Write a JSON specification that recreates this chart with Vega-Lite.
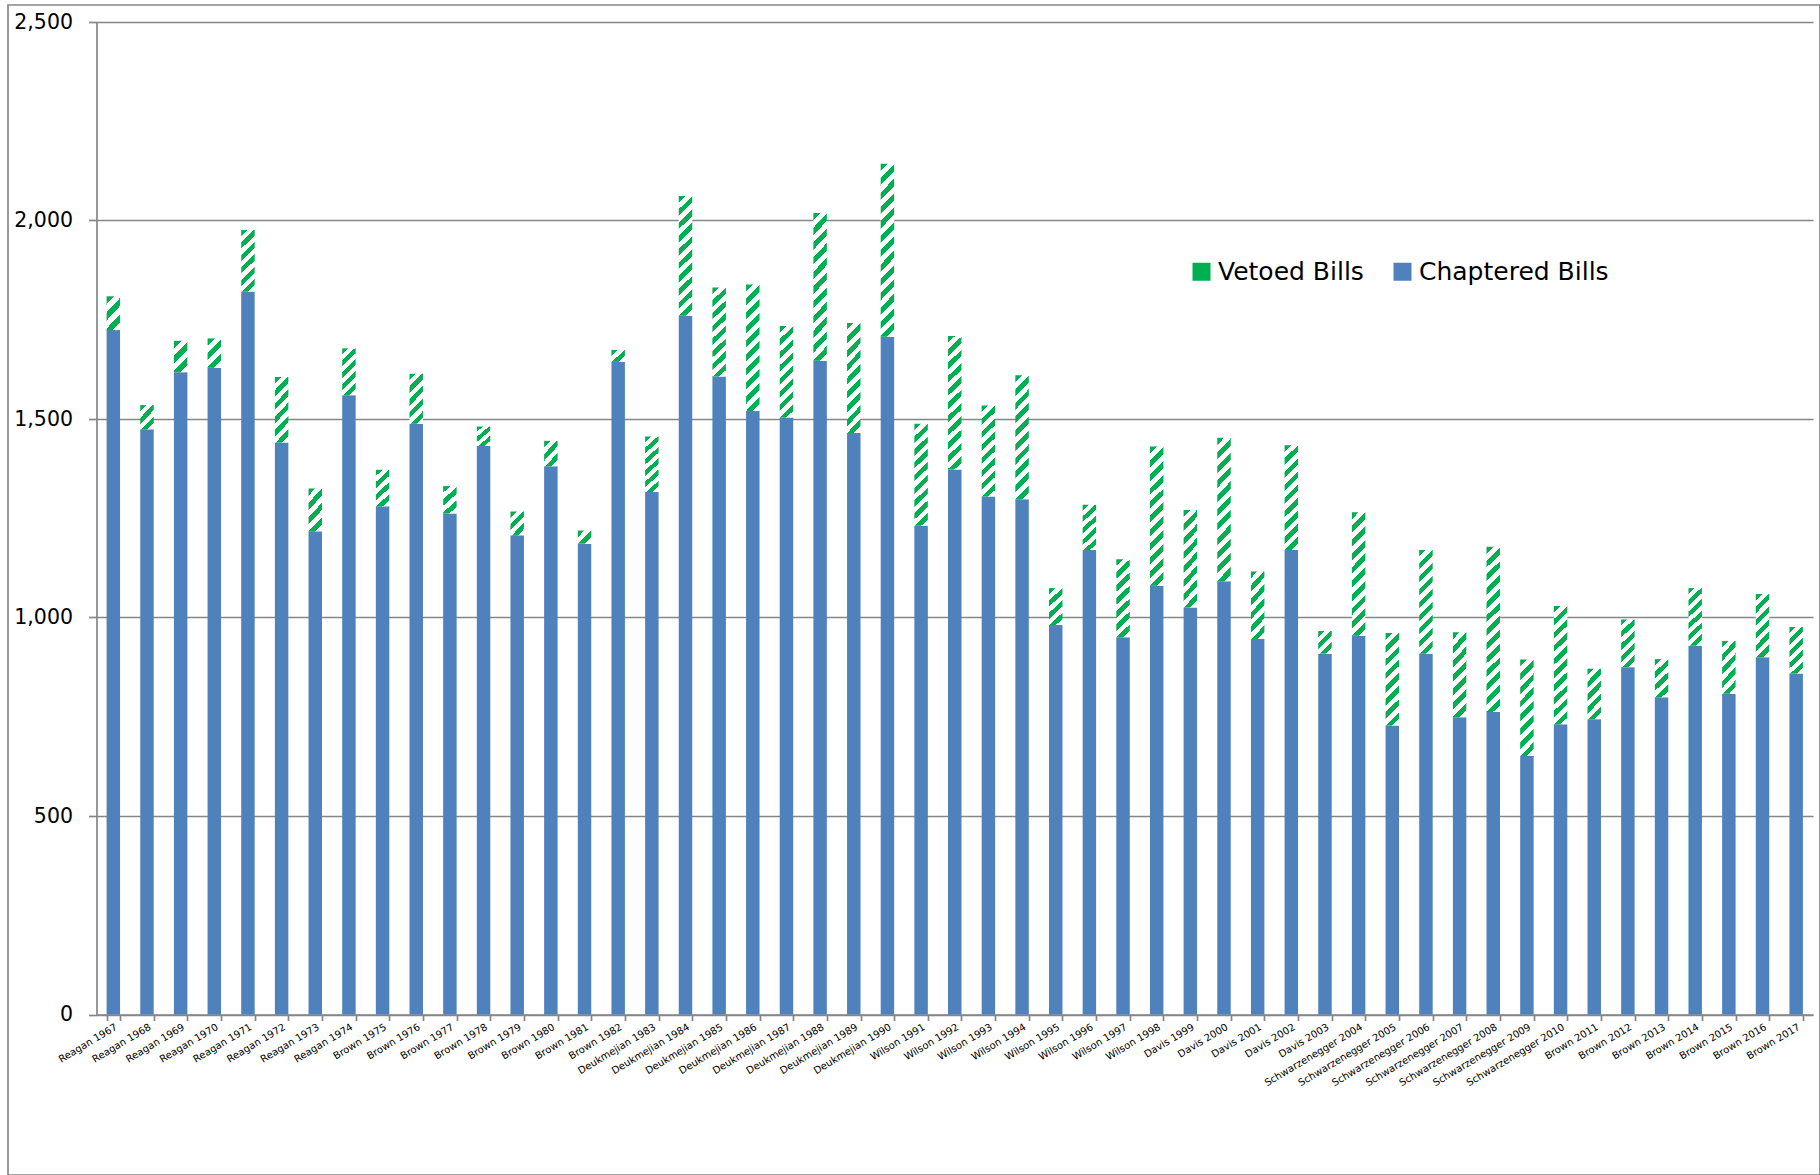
{
  "$schema": "https://vega.github.io/schema/vega-lite/v6.json",
  "width": 1812,
  "height": 1170,
  "autosize": "none",
  "padding": {"left": 8, "top": 5, "right": 0, "bottom": 0},
  "background": "white",
  "config": {
    "font": "DejaVu Sans",
    "view": {"stroke": "#878787", "strokeWidth": 1.7}
  },
  "data": {"values": [
    {"label": "Reagan 1967", "chaptered": 1724, "vetoed": 85},
    {"label": "Reagan 1968", "chaptered": 1474, "vetoed": 61},
    {"label": "Reagan 1969", "chaptered": 1618, "vetoed": 79},
    {"label": "Reagan 1970", "chaptered": 1629, "vetoed": 74},
    {"label": "Reagan 1971", "chaptered": 1821, "vetoed": 155},
    {"label": "Reagan 1972", "chaptered": 1441, "vetoed": 165},
    {"label": "Reagan 1973", "chaptered": 1217, "vetoed": 108},
    {"label": "Reagan 1974", "chaptered": 1560, "vetoed": 118},
    {"label": "Brown 1975", "chaptered": 1280, "vetoed": 92},
    {"label": "Brown 1976", "chaptered": 1488, "vetoed": 126},
    {"label": "Brown 1977", "chaptered": 1262, "vetoed": 69},
    {"label": "Brown 1978", "chaptered": 1432, "vetoed": 49},
    {"label": "Brown 1979", "chaptered": 1207, "vetoed": 60},
    {"label": "Brown 1980", "chaptered": 1381, "vetoed": 64},
    {"label": "Brown 1981", "chaptered": 1186, "vetoed": 33},
    {"label": "Brown 1982", "chaptered": 1644, "vetoed": 30},
    {"label": "Deukmejian 1983", "chaptered": 1316, "vetoed": 140},
    {"label": "Deukmejian 1984", "chaptered": 1760, "vetoed": 302},
    {"label": "Deukmejian 1985", "chaptered": 1607, "vetoed": 224},
    {"label": "Deukmejian 1986", "chaptered": 1520, "vetoed": 319},
    {"label": "Deukmejian 1987", "chaptered": 1504, "vetoed": 230},
    {"label": "Deukmejian 1988", "chaptered": 1647, "vetoed": 372},
    {"label": "Deukmejian 1989", "chaptered": 1465, "vetoed": 277},
    {"label": "Deukmejian 1990", "chaptered": 1707, "vetoed": 436},
    {"label": "Wilson 1991", "chaptered": 1231, "vetoed": 257},
    {"label": "Wilson 1992", "chaptered": 1373, "vetoed": 336},
    {"label": "Wilson 1993", "chaptered": 1305, "vetoed": 229},
    {"label": "Wilson 1994", "chaptered": 1298, "vetoed": 312},
    {"label": "Wilson 1995", "chaptered": 981, "vetoed": 93},
    {"label": "Wilson 1996", "chaptered": 1170, "vetoed": 114},
    {"label": "Wilson 1997", "chaptered": 950, "vetoed": 197},
    {"label": "Wilson 1998", "chaptered": 1080, "vetoed": 351},
    {"label": "Davis 1999", "chaptered": 1025, "vetoed": 246},
    {"label": "Davis 2000", "chaptered": 1091, "vetoed": 362},
    {"label": "Davis 2001", "chaptered": 946, "vetoed": 170},
    {"label": "Davis 2002", "chaptered": 1170, "vetoed": 264},
    {"label": "Davis 2003", "chaptered": 909, "vetoed": 57},
    {"label": "Schwarzenegger 2004", "chaptered": 954, "vetoed": 311},
    {"label": "Schwarzenegger 2005", "chaptered": 728, "vetoed": 233},
    {"label": "Schwarzenegger 2006", "chaptered": 909, "vetoed": 261},
    {"label": "Schwarzenegger 2007", "chaptered": 749, "vetoed": 214},
    {"label": "Schwarzenegger 2008", "chaptered": 762, "vetoed": 416},
    {"label": "Schwarzenegger 2009", "chaptered": 651, "vetoed": 243},
    {"label": "Schwarzenegger 2010", "chaptered": 731, "vetoed": 298},
    {"label": "Brown 2011", "chaptered": 744, "vetoed": 127},
    {"label": "Brown 2012", "chaptered": 875, "vetoed": 120},
    {"label": "Brown 2013", "chaptered": 799, "vetoed": 96},
    {"label": "Brown 2014", "chaptered": 929, "vetoed": 145},
    {"label": "Brown 2015", "chaptered": 808, "vetoed": 133},
    {"label": "Brown 2016", "chaptered": 900, "vetoed": 159},
    {"label": "Brown 2017", "chaptered": 859, "vetoed": 117}
  ]},
  "transform": [
    {"fold": ["chaptered", "vetoed"], "as": ["series", "count"]},
    {"stack": "count", "groupby": ["label"], "sort": [{"field": "series", "order": "ascending"}], "as": ["lo", "hi"]}
  ],
  "encoding": {
    "x": {
      "field": "label", "type": "nominal",
      "scale": {
        "domain": ["Reagan 1967","Reagan 1968","Reagan 1969","Reagan 1970","Reagan 1971","Reagan 1972","Reagan 1973","Reagan 1974","Brown 1975","Brown 1976","Brown 1977","Brown 1978","Brown 1979","Brown 1980","Brown 1981","Brown 1982","Deukmejian 1983","Deukmejian 1984","Deukmejian 1985","Deukmejian 1986","Deukmejian 1987","Deukmejian 1988","Deukmejian 1989","Deukmejian 1990","Wilson 1991","Wilson 1992","Wilson 1993","Wilson 1994","Wilson 1995","Wilson 1996","Wilson 1997","Wilson 1998","Davis 1999","Davis 2000","Davis 2001","Davis 2002","Davis 2003","Schwarzenegger 2004","Schwarzenegger 2005","Schwarzenegger 2006","Schwarzenegger 2007","Schwarzenegger 2008","Schwarzenegger 2009","Schwarzenegger 2010","Brown 2011","Brown 2012","Brown 2013","Brown 2014","Brown 2015","Brown 2016","Brown 2017"],
        "range": [88.5, 1805],
        "paddingInner": 0.6,
        "paddingOuter": 0.3
      },
      "axis": {
        "title": null, "offset": -160.5, "labelAngle": -31,
        "labelFont": "DejaVu Sans", "labelFontSize": 10, "labelColor": "#000000",
        "labelPadding": 1, "tickBand": "extent", "tickSize": 6,
        "tickColor": "#868686", "tickWidth": 1.7,
        "domainColor": "#868686", "domainWidth": 1.7,
        "grid": false, "labelOverlap": false, "labelLimit": 300
      }
    },
    "y": {
      "field": "hi", "type": "quantitative",
      "scale": {"domain": [0, 2500], "range": [1009.5, 17], "nice": false, "zero": true},
      "axis": {
        "title": null, "values": [0, 500, 1000, 1500, 2000, 2500], "format": ",d",
        "offset": -88.5, "grid": true, "gridColor": "#868686", "gridWidth": 1.7,
        "domainColor": "#868686", "domainWidth": 1.7,
        "tickColor": "#868686", "tickWidth": 1.7, "tickSize": 8,
        "labelFont": "DejaVu Sans", "labelFontSize": 20.5, "labelColor": "#000000",
        "labelPadding": 16, "labelFlush": false
      }
    },
    "y2": {"field": "lo"}
  },
  "layer": [
    {
      "transform": [{"filter": "datum.series === 'chaptered'"}],
      "mark": {"type": "bar"},
      "encoding": {
        "color": {
          "datum": "Chaptered Bills", "type": "nominal",
          "scale": {"domain": ["Vetoed Bills", "Chaptered Bills"], "range": ["#00B050", "#4F81BD"]},
          "legend": {
            "orient": "none", "legendX": 1181, "legendY": 254, "direction": "horizontal",
            "title": null, "symbolType": "square", "symbolSize": 324,
            "labelFont": "DejaVu Sans", "labelFontSize": 25, "labelColor": "#000000",
            "labelOffset": 4, "columnPadding": 26, "padding": 0, "labelLimit": 400,
            "symbolStrokeWidth": 0, "symbolOpacity": 1
          }
        }
      }
    },
    {
      "transform": [{"filter": "datum.series === 'vetoed' && datum.count < 40"}],
      "mark": {"type": "bar", "fill": {"gradient": "linear", "x1": 0, "y1": 0, "x2": 1.035, "y2": 0.962, "stops": [
        {"offset": 0, "color": "#00B050"}, {"offset": 0.25, "color": "#00B050"}, {"offset": 0.25, "color": "#ffffff"}, {"offset": 0.5, "color": "#ffffff"},
        {"offset": 0.5, "color": "#00B050"}, {"offset": 0.75, "color": "#00B050"}, {"offset": 0.75, "color": "#ffffff"}, {"offset": 1, "color": "#ffffff"}]}}
    },
    {
      "transform": [{"filter": "datum.series === 'vetoed' && datum.count >= 40 && datum.count < 65"}],
      "mark": {"type": "bar", "fill": {"gradient": "linear", "x1": 0, "y1": 0, "x2": 0.691, "y2": 1.181, "stops": [
        {"offset": 0, "color": "#00B050"}, {"offset": 0.1667, "color": "#00B050"}, {"offset": 0.1667, "color": "#ffffff"}, {"offset": 0.3333, "color": "#ffffff"},
        {"offset": 0.3333, "color": "#00B050"}, {"offset": 0.5, "color": "#00B050"}, {"offset": 0.5, "color": "#ffffff"}, {"offset": 0.6667, "color": "#ffffff"},
        {"offset": 0.6667, "color": "#00B050"}, {"offset": 0.8333, "color": "#00B050"}, {"offset": 0.8333, "color": "#ffffff"}, {"offset": 1, "color": "#ffffff"}]}}
    },
    {
      "transform": [{"filter": "datum.series === 'vetoed' && datum.count >= 65 && datum.count < 90"}],
      "mark": {"type": "bar", "fill": {"gradient": "linear", "x1": 0, "y1": 0, "x2": 0.524, "y2": 1.207, "stops": [
        {"offset": 0, "color": "#00B050"}, {"offset": 0.1667, "color": "#00B050"}, {"offset": 0.1667, "color": "#ffffff"}, {"offset": 0.3333, "color": "#ffffff"},
        {"offset": 0.3333, "color": "#00B050"}, {"offset": 0.5, "color": "#00B050"}, {"offset": 0.5, "color": "#ffffff"}, {"offset": 0.6667, "color": "#ffffff"},
        {"offset": 0.6667, "color": "#00B050"}, {"offset": 0.8333, "color": "#00B050"}, {"offset": 0.8333, "color": "#ffffff"}, {"offset": 1, "color": "#ffffff"}]}}
    },
    {
      "transform": [{"filter": "datum.series === 'vetoed' && datum.count >= 90 && datum.count < 112"}],
      "mark": {"type": "bar", "fill": {"gradient": "linear", "x1": 0, "y1": 0, "x2": 0.404, "y2": 1.201, "stops": [
        {"offset": 0, "color": "#00B050"}, {"offset": 0.125, "color": "#00B050"}, {"offset": 0.125, "color": "#ffffff"}, {"offset": 0.25, "color": "#ffffff"},
        {"offset": 0.25, "color": "#00B050"}, {"offset": 0.375, "color": "#00B050"}, {"offset": 0.375, "color": "#ffffff"}, {"offset": 0.5, "color": "#ffffff"},
        {"offset": 0.5, "color": "#00B050"}, {"offset": 0.625, "color": "#00B050"}, {"offset": 0.625, "color": "#ffffff"}, {"offset": 0.75, "color": "#ffffff"},
        {"offset": 0.75, "color": "#00B050"}, {"offset": 0.875, "color": "#00B050"}, {"offset": 0.875, "color": "#ffffff"}, {"offset": 1, "color": "#ffffff"}]}}
    },
    {
      "transform": [{"filter": "datum.series === 'vetoed' && datum.count >= 112 && datum.count < 135"}],
      "mark": {"type": "bar", "fill": {"gradient": "linear", "x1": 0, "y1": 0, "x2": 0.3256, "y2": 1.185, "stops": [
        {"offset": 0, "color": "#00B050"}, {"offset": 0.1, "color": "#00B050"}, {"offset": 0.1, "color": "#ffffff"}, {"offset": 0.2, "color": "#ffffff"},
        {"offset": 0.2, "color": "#00B050"}, {"offset": 0.3, "color": "#00B050"}, {"offset": 0.3, "color": "#ffffff"}, {"offset": 0.4, "color": "#ffffff"},
        {"offset": 0.4, "color": "#00B050"}, {"offset": 0.5, "color": "#00B050"}, {"offset": 0.5, "color": "#ffffff"}, {"offset": 0.6, "color": "#ffffff"},
        {"offset": 0.6, "color": "#00B050"}, {"offset": 0.7, "color": "#00B050"}, {"offset": 0.7, "color": "#ffffff"}, {"offset": 0.8, "color": "#ffffff"},
        {"offset": 0.8, "color": "#00B050"}, {"offset": 0.9, "color": "#00B050"}, {"offset": 0.9, "color": "#ffffff"}, {"offset": 1, "color": "#ffffff"}]}}
    },
    {
      "transform": [{"filter": "datum.series === 'vetoed' && datum.count >= 135 && datum.count < 175"}],
      "mark": {"type": "bar", "fill": {"gradient": "linear", "x1": 0, "y1": 0, "x2": 0.2523, "y2": 1.162, "stops": [
        {"offset": 0, "color": "#00B050"}, {"offset": 0.0833, "color": "#00B050"}, {"offset": 0.0833, "color": "#ffffff"}, {"offset": 0.1667, "color": "#ffffff"},
        {"offset": 0.1667, "color": "#00B050"}, {"offset": 0.25, "color": "#00B050"}, {"offset": 0.25, "color": "#ffffff"}, {"offset": 0.3333, "color": "#ffffff"},
        {"offset": 0.3333, "color": "#00B050"}, {"offset": 0.4167, "color": "#00B050"}, {"offset": 0.4167, "color": "#ffffff"}, {"offset": 0.5, "color": "#ffffff"},
        {"offset": 0.5, "color": "#00B050"}, {"offset": 0.5833, "color": "#00B050"}, {"offset": 0.5833, "color": "#ffffff"}, {"offset": 0.6667, "color": "#ffffff"},
        {"offset": 0.6667, "color": "#00B050"}, {"offset": 0.75, "color": "#00B050"}, {"offset": 0.75, "color": "#ffffff"}, {"offset": 0.8333, "color": "#ffffff"},
        {"offset": 0.8333, "color": "#00B050"}, {"offset": 0.9167, "color": "#00B050"}, {"offset": 0.9167, "color": "#ffffff"}, {"offset": 1, "color": "#ffffff"}]}}
    },
    {
      "transform": [{"filter": "datum.series === 'vetoed' && datum.count >= 175 && datum.count < 220"}],
      "mark": {"type": "bar", "fill": {"gradient": "linear", "x1": 0, "y1": 0, "x2": 0.1861, "y2": 1.134, "stops": [
        {"offset": 0, "color": "#00B050"}, {"offset": 0.0714, "color": "#00B050"}, {"offset": 0.0714, "color": "#ffffff"}, {"offset": 0.1429, "color": "#ffffff"},
        {"offset": 0.1429, "color": "#00B050"}, {"offset": 0.2143, "color": "#00B050"}, {"offset": 0.2143, "color": "#ffffff"}, {"offset": 0.2857, "color": "#ffffff"},
        {"offset": 0.2857, "color": "#00B050"}, {"offset": 0.3571, "color": "#00B050"}, {"offset": 0.3571, "color": "#ffffff"}, {"offset": 0.4286, "color": "#ffffff"},
        {"offset": 0.4286, "color": "#00B050"}, {"offset": 0.5, "color": "#00B050"}, {"offset": 0.5, "color": "#ffffff"}, {"offset": 0.5714, "color": "#ffffff"},
        {"offset": 0.5714, "color": "#00B050"}, {"offset": 0.6429, "color": "#00B050"}, {"offset": 0.6429, "color": "#ffffff"}, {"offset": 0.7143, "color": "#ffffff"},
        {"offset": 0.7143, "color": "#00B050"}, {"offset": 0.7857, "color": "#00B050"}, {"offset": 0.7857, "color": "#ffffff"}, {"offset": 0.8571, "color": "#ffffff"},
        {"offset": 0.8571, "color": "#00B050"}, {"offset": 0.9286, "color": "#00B050"}, {"offset": 0.9286, "color": "#ffffff"}, {"offset": 1, "color": "#ffffff"}]}}
    },
    {
      "transform": [{"filter": "datum.series === 'vetoed' && datum.count >= 220 && datum.count < 250"}],
      "mark": {"type": "bar", "fill": {"gradient": "linear", "x1": 0, "y1": 0, "x2": 0.1604, "y2": 1.12, "stops": [
        {"offset": 0, "color": "#00B050"}, {"offset": 0.0625, "color": "#00B050"}, {"offset": 0.0625, "color": "#ffffff"}, {"offset": 0.125, "color": "#ffffff"},
        {"offset": 0.125, "color": "#00B050"}, {"offset": 0.1875, "color": "#00B050"}, {"offset": 0.1875, "color": "#ffffff"}, {"offset": 0.25, "color": "#ffffff"},
        {"offset": 0.25, "color": "#00B050"}, {"offset": 0.3125, "color": "#00B050"}, {"offset": 0.3125, "color": "#ffffff"}, {"offset": 0.375, "color": "#ffffff"},
        {"offset": 0.375, "color": "#00B050"}, {"offset": 0.4375, "color": "#00B050"}, {"offset": 0.4375, "color": "#ffffff"}, {"offset": 0.5, "color": "#ffffff"},
        {"offset": 0.5, "color": "#00B050"}, {"offset": 0.5625, "color": "#00B050"}, {"offset": 0.5625, "color": "#ffffff"}, {"offset": 0.625, "color": "#ffffff"},
        {"offset": 0.625, "color": "#00B050"}, {"offset": 0.6875, "color": "#00B050"}, {"offset": 0.6875, "color": "#ffffff"}, {"offset": 0.75, "color": "#ffffff"},
        {"offset": 0.75, "color": "#00B050"}, {"offset": 0.8125, "color": "#00B050"}, {"offset": 0.8125, "color": "#ffffff"}, {"offset": 0.875, "color": "#ffffff"},
        {"offset": 0.875, "color": "#00B050"}, {"offset": 0.9375, "color": "#00B050"}, {"offset": 0.9375, "color": "#ffffff"}, {"offset": 1, "color": "#ffffff"}]}}
    },
    {
      "transform": [{"filter": "datum.series === 'vetoed' && datum.count >= 250 && datum.count < 285"}],
      "mark": {"type": "bar", "fill": {"gradient": "linear", "x1": 0, "y1": 0, "x2": 0.1408, "y2": 1.109, "stops": [
        {"offset": 0, "color": "#00B050"}, {"offset": 0.0556, "color": "#00B050"}, {"offset": 0.0556, "color": "#ffffff"}, {"offset": 0.1111, "color": "#ffffff"},
        {"offset": 0.1111, "color": "#00B050"}, {"offset": 0.1667, "color": "#00B050"}, {"offset": 0.1667, "color": "#ffffff"}, {"offset": 0.2222, "color": "#ffffff"},
        {"offset": 0.2222, "color": "#00B050"}, {"offset": 0.2778, "color": "#00B050"}, {"offset": 0.2778, "color": "#ffffff"}, {"offset": 0.3333, "color": "#ffffff"},
        {"offset": 0.3333, "color": "#00B050"}, {"offset": 0.3889, "color": "#00B050"}, {"offset": 0.3889, "color": "#ffffff"}, {"offset": 0.4444, "color": "#ffffff"},
        {"offset": 0.4444, "color": "#00B050"}, {"offset": 0.5, "color": "#00B050"}, {"offset": 0.5, "color": "#ffffff"}, {"offset": 0.5556, "color": "#ffffff"},
        {"offset": 0.5556, "color": "#00B050"}, {"offset": 0.6111, "color": "#00B050"}, {"offset": 0.6111, "color": "#ffffff"}, {"offset": 0.6667, "color": "#ffffff"},
        {"offset": 0.6667, "color": "#00B050"}, {"offset": 0.7222, "color": "#00B050"}, {"offset": 0.7222, "color": "#ffffff"}, {"offset": 0.7778, "color": "#ffffff"},
        {"offset": 0.7778, "color": "#00B050"}, {"offset": 0.8333, "color": "#00B050"}, {"offset": 0.8333, "color": "#ffffff"}, {"offset": 0.8889, "color": "#ffffff"},
        {"offset": 0.8889, "color": "#00B050"}, {"offset": 0.9444, "color": "#00B050"}, {"offset": 0.9444, "color": "#ffffff"}, {"offset": 1, "color": "#ffffff"}]}}
    },
    {
      "transform": [{"filter": "datum.series === 'vetoed' && datum.count >= 285 && datum.count < 330"}],
      "mark": {"type": "bar", "fill": {"gradient": "linear", "x1": 0, "y1": 0, "x2": 0.121, "y2": 1.097, "stops": [
        {"offset": 0, "color": "#00B050"}, {"offset": 0.05, "color": "#00B050"}, {"offset": 0.05, "color": "#ffffff"}, {"offset": 0.1, "color": "#ffffff"},
        {"offset": 0.1, "color": "#00B050"}, {"offset": 0.15, "color": "#00B050"}, {"offset": 0.15, "color": "#ffffff"}, {"offset": 0.2, "color": "#ffffff"},
        {"offset": 0.2, "color": "#00B050"}, {"offset": 0.25, "color": "#00B050"}, {"offset": 0.25, "color": "#ffffff"}, {"offset": 0.3, "color": "#ffffff"},
        {"offset": 0.3, "color": "#00B050"}, {"offset": 0.35, "color": "#00B050"}, {"offset": 0.35, "color": "#ffffff"}, {"offset": 0.4, "color": "#ffffff"},
        {"offset": 0.4, "color": "#00B050"}, {"offset": 0.45, "color": "#00B050"}, {"offset": 0.45, "color": "#ffffff"}, {"offset": 0.5, "color": "#ffffff"},
        {"offset": 0.5, "color": "#00B050"}, {"offset": 0.55, "color": "#00B050"}, {"offset": 0.55, "color": "#ffffff"}, {"offset": 0.6, "color": "#ffffff"},
        {"offset": 0.6, "color": "#00B050"}, {"offset": 0.65, "color": "#00B050"}, {"offset": 0.65, "color": "#ffffff"}, {"offset": 0.7, "color": "#ffffff"},
        {"offset": 0.7, "color": "#00B050"}, {"offset": 0.75, "color": "#00B050"}, {"offset": 0.75, "color": "#ffffff"}, {"offset": 0.8, "color": "#ffffff"},
        {"offset": 0.8, "color": "#00B050"}, {"offset": 0.85, "color": "#00B050"}, {"offset": 0.85, "color": "#ffffff"}, {"offset": 0.9, "color": "#ffffff"},
        {"offset": 0.9, "color": "#00B050"}, {"offset": 0.95, "color": "#00B050"}, {"offset": 0.95, "color": "#ffffff"}, {"offset": 1, "color": "#ffffff"}]}}
    },
    {
      "transform": [{"filter": "datum.series === 'vetoed' && datum.count >= 330 && datum.count < 380"}],
      "mark": {"type": "bar", "fill": {"gradient": "linear", "x1": 0, "y1": 0, "x2": 0.1037, "y2": 1.086, "stops": [
        {"offset": 0, "color": "#00B050"}, {"offset": 0.0455, "color": "#00B050"}, {"offset": 0.0455, "color": "#ffffff"}, {"offset": 0.0909, "color": "#ffffff"},
        {"offset": 0.0909, "color": "#00B050"}, {"offset": 0.1364, "color": "#00B050"}, {"offset": 0.1364, "color": "#ffffff"}, {"offset": 0.1818, "color": "#ffffff"},
        {"offset": 0.1818, "color": "#00B050"}, {"offset": 0.2273, "color": "#00B050"}, {"offset": 0.2273, "color": "#ffffff"}, {"offset": 0.2727, "color": "#ffffff"},
        {"offset": 0.2727, "color": "#00B050"}, {"offset": 0.3182, "color": "#00B050"}, {"offset": 0.3182, "color": "#ffffff"}, {"offset": 0.3636, "color": "#ffffff"},
        {"offset": 0.3636, "color": "#00B050"}, {"offset": 0.4091, "color": "#00B050"}, {"offset": 0.4091, "color": "#ffffff"}, {"offset": 0.4545, "color": "#ffffff"},
        {"offset": 0.4545, "color": "#00B050"}, {"offset": 0.5, "color": "#00B050"}, {"offset": 0.5, "color": "#ffffff"}, {"offset": 0.5455, "color": "#ffffff"},
        {"offset": 0.5455, "color": "#00B050"}, {"offset": 0.5909, "color": "#00B050"}, {"offset": 0.5909, "color": "#ffffff"}, {"offset": 0.6364, "color": "#ffffff"},
        {"offset": 0.6364, "color": "#00B050"}, {"offset": 0.6818, "color": "#00B050"}, {"offset": 0.6818, "color": "#ffffff"}, {"offset": 0.7273, "color": "#ffffff"},
        {"offset": 0.7273, "color": "#00B050"}, {"offset": 0.7727, "color": "#00B050"}, {"offset": 0.7727, "color": "#ffffff"}, {"offset": 0.8182, "color": "#ffffff"},
        {"offset": 0.8182, "color": "#00B050"}, {"offset": 0.8636, "color": "#00B050"}, {"offset": 0.8636, "color": "#ffffff"}, {"offset": 0.9091, "color": "#ffffff"},
        {"offset": 0.9091, "color": "#00B050"}, {"offset": 0.9545, "color": "#00B050"}, {"offset": 0.9545, "color": "#ffffff"}, {"offset": 1, "color": "#ffffff"}]}}
    },
    {
      "transform": [{"filter": "datum.series === 'vetoed' && datum.count >= 380"}],
      "mark": {"type": "bar", "fill": {"gradient": "linear", "x1": 0, "y1": 0, "x2": 0.0855, "y2": 1.073, "stops": [
        {"offset": 0, "color": "#00B050"}, {"offset": 0.0385, "color": "#00B050"}, {"offset": 0.0385, "color": "#ffffff"}, {"offset": 0.0769, "color": "#ffffff"},
        {"offset": 0.0769, "color": "#00B050"}, {"offset": 0.1154, "color": "#00B050"}, {"offset": 0.1154, "color": "#ffffff"}, {"offset": 0.1538, "color": "#ffffff"},
        {"offset": 0.1538, "color": "#00B050"}, {"offset": 0.1923, "color": "#00B050"}, {"offset": 0.1923, "color": "#ffffff"}, {"offset": 0.2308, "color": "#ffffff"},
        {"offset": 0.2308, "color": "#00B050"}, {"offset": 0.2692, "color": "#00B050"}, {"offset": 0.2692, "color": "#ffffff"}, {"offset": 0.3077, "color": "#ffffff"},
        {"offset": 0.3077, "color": "#00B050"}, {"offset": 0.3462, "color": "#00B050"}, {"offset": 0.3462, "color": "#ffffff"}, {"offset": 0.3846, "color": "#ffffff"},
        {"offset": 0.3846, "color": "#00B050"}, {"offset": 0.4231, "color": "#00B050"}, {"offset": 0.4231, "color": "#ffffff"}, {"offset": 0.4615, "color": "#ffffff"},
        {"offset": 0.4615, "color": "#00B050"}, {"offset": 0.5, "color": "#00B050"}, {"offset": 0.5, "color": "#ffffff"}, {"offset": 0.5385, "color": "#ffffff"},
        {"offset": 0.5385, "color": "#00B050"}, {"offset": 0.5769, "color": "#00B050"}, {"offset": 0.5769, "color": "#ffffff"}, {"offset": 0.6154, "color": "#ffffff"},
        {"offset": 0.6154, "color": "#00B050"}, {"offset": 0.6538, "color": "#00B050"}, {"offset": 0.6538, "color": "#ffffff"}, {"offset": 0.6923, "color": "#ffffff"},
        {"offset": 0.6923, "color": "#00B050"}, {"offset": 0.7308, "color": "#00B050"}, {"offset": 0.7308, "color": "#ffffff"}, {"offset": 0.7692, "color": "#ffffff"},
        {"offset": 0.7692, "color": "#00B050"}, {"offset": 0.8077, "color": "#00B050"}, {"offset": 0.8077, "color": "#ffffff"}, {"offset": 0.8462, "color": "#ffffff"},
        {"offset": 0.8462, "color": "#00B050"}, {"offset": 0.8846, "color": "#00B050"}, {"offset": 0.8846, "color": "#ffffff"}, {"offset": 0.9231, "color": "#ffffff"},
        {"offset": 0.9231, "color": "#00B050"}, {"offset": 0.9615, "color": "#00B050"}, {"offset": 0.9615, "color": "#ffffff"}, {"offset": 1, "color": "#ffffff"}]}}
    }
  ]
}
